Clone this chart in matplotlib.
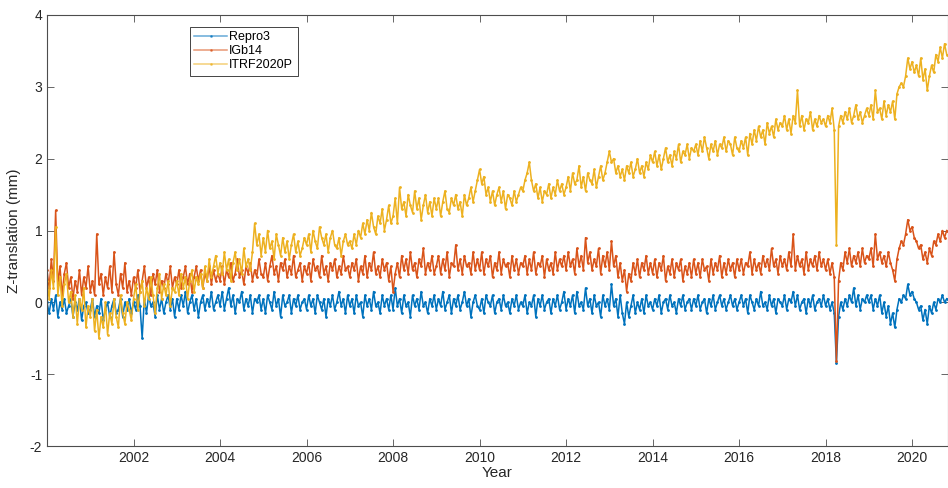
import numpy as np
import matplotlib
matplotlib.use("Agg")
from matplotlib import pyplot as plt

plt.rcParams['font.family'] = ['Liberation Sans', 'DejaVu Sans']
plt.rcParams['axes.unicode_minus'] = False

# sampled every 0.05 year starting at 2000.0 (one row = one year)
start_year = 2000.0
step = 0.05

repro3 = [
    0.0, -0.15, 0.05, -0.1, 0.1, -0.2, 0.0, -0.1, 0.05, -0.15, -0.05, 0.05, -0.2, 0.0, -0.1, 0.05, -0.25, -0.05, 0.0, -0.15,
    -0.1, 0.05, -0.2, -0.05, -0.15, 0.05, -0.25, -0.1, 0.0, -0.2, -0.05, 0.05, -0.15, -0.1, 0.05, -0.2, 0.0, -0.1, 0.05, -0.15,
    0.0, -0.1, 0.1, -0.05, -0.5, 0.05, -0.15, 0.1, -0.05, 0.0, -0.2, 0.1, -0.1, 0.05, -0.15, 0.0, 0.1, -0.1, 0.05, -0.2,
    0.05, -0.1, 0.1, -0.05, 0.15, -0.15, 0.0, 0.1, -0.1, 0.05, -0.2, 0.0, 0.1, -0.1, 0.05, -0.05, 0.15, -0.1, 0.0, 0.1,
    -0.05, 0.15, -0.1, 0.05, 0.2, -0.05, 0.1, -0.15, 0.05, 0.0, 0.15, -0.1, 0.05, -0.05, 0.1, -0.15, 0.05, 0.0, 0.1, -0.1,
    0.05, -0.15, 0.1, 0.0, -0.1, 0.15, -0.05, 0.05, -0.2, 0.1, -0.05, 0.0, 0.1, -0.15, 0.05, -0.05, 0.1, -0.1, 0.0, 0.05,
    -0.1, 0.1, -0.05, 0.05, -0.15, 0.1, 0.0, -0.1, 0.05, -0.2, 0.05, -0.05, 0.1, -0.1, 0.0, 0.15, -0.05, 0.05, -0.15, 0.1,
    -0.05, 0.05, -0.15, 0.1, -0.05, 0.0, -0.2, 0.1, -0.05, 0.05, -0.1, 0.15, -0.05, 0.0, -0.15, 0.1, -0.05, 0.05, -0.1, 0.1,
    -0.1, 0.2, -0.05, 0.05, -0.15, 0.1, -0.05, 0.0, -0.2, 0.1, -0.05, 0.05, -0.1, 0.15, -0.05, 0.0, -0.15, 0.05, -0.05, 0.1,
    -0.1, 0.05, -0.05, 0.15, -0.1, 0.0, 0.1, -0.15, 0.05, -0.05, 0.1, -0.1, 0.0, 0.15, -0.05, 0.05, -0.2, 0.0, 0.1, -0.05,
    -0.1, 0.05, -0.15, 0.1, 0.0, -0.05, 0.1, -0.15, 0.0, 0.05, -0.1, 0.1, -0.05, 0.0, -0.15, 0.05, -0.05, 0.1, -0.1, 0.0,
    -0.05, 0.1, -0.15, 0.0, -0.05, 0.1, -0.2, 0.05, -0.05, 0.1, -0.1, 0.0, 0.05, -0.15, 0.05, -0.05, 0.1, -0.1, 0.0, 0.15,
    -0.1, 0.05, -0.05, 0.1, -0.15, 0.15, -0.05, 0.0, -0.1, 0.2, -0.05, 0.05, -0.15, 0.1, -0.05, 0.0, -0.2, 0.1, -0.05, 0.05,
    -0.1, 0.25, -0.05, 0.05, -0.2, 0.1, -0.15, -0.3, 0.0, -0.2, -0.05, 0.1, -0.15, 0.0, -0.1, 0.05, -0.15, 0.1, -0.05, 0.0,
    -0.1, 0.05, -0.05, 0.1, -0.15, 0.0, 0.05, -0.1, 0.1, -0.05, 0.0, -0.15, 0.05, -0.05, 0.1, -0.1, 0.0, 0.05, -0.1, 0.05,
    -0.05, 0.1, -0.1, 0.0, 0.05, -0.15, 0.05, -0.05, 0.1, -0.1, 0.0, 0.1, -0.05, 0.05, -0.1, 0.0, 0.1, -0.05, 0.05, -0.1,
    0.0, 0.1, -0.05, 0.05, -0.15, 0.1, 0.0, -0.1, 0.05, -0.05, 0.15, -0.05, 0.0, -0.1, 0.1, -0.05, 0.05, -0.15, 0.05, 0.0,
    -0.05, 0.1, -0.1, 0.05, 0.0, 0.15, -0.05, 0.1, -0.1, 0.0, 0.05, -0.15, 0.05, -0.05, 0.1, -0.1, 0.0, 0.05, -0.05, 0.1,
    -0.05, 0.05, -0.1, 0.0, -0.15, -0.85, -0.2, 0.0, -0.1, 0.05, -0.05, 0.1, 0.0, 0.2, -0.05, 0.1, -0.1, 0.05, 0.0, 0.1,
    0.0, 0.1, -0.1, 0.05, -0.05, 0.1, -0.15, 0.0, -0.2, -0.05, -0.3, -0.15, -0.35, -0.1, 0.05, 0.0, 0.1, 0.05, 0.25, 0.1,
    0.15, 0.05, 0.0, -0.1, -0.05, -0.25, -0.1, -0.3, -0.05, -0.15, 0.0, -0.1, 0.05, 0.0, 0.1, 0.0, 0.05,
]

igb14 = [
    0.45, 0.2, 0.6, 0.3, 1.28, 0.25, 0.5, 0.1, 0.4, 0.55, 0.2, 0.35, 0.05, 0.3, 0.15, 0.45, 0.1, 0.35, 0.2, 0.5,
    0.15, 0.3, 0.1, 0.95, 0.25, 0.4, 0.1, 0.35, 0.2, 0.5, 0.15, 0.7, 0.25, 0.1, 0.4, 0.2, 0.55, 0.15, 0.3, 0.1,
    0.35, 0.2, 0.45, 0.15, 0.3, 0.5, 0.2, 0.35, 0.1, 0.4, 0.25, 0.45, 0.15, 0.3, 0.2, 0.4, 0.25, 0.5, 0.2, 0.35,
    0.25, 0.45, 0.2, 0.35, 0.5, 0.25, 0.4, 0.15, 0.35, 0.5, 0.3, 0.45, 0.2, 0.4, 0.3, 0.5, 0.25, 0.45, 0.3, 0.4,
    0.3, 0.5, 0.25, 0.45, 0.35, 0.55, 0.3, 0.4, 0.6, 0.35, 0.45, 0.25, 0.5, 0.4, 0.55, 0.3, 0.45, 0.35, 0.6, 0.4,
    0.35, 0.55, 0.3, 0.5, 0.65, 0.4, 0.5, 0.3, 0.55, 0.45, 0.6, 0.35, 0.5, 0.4, 0.65, 0.35, 0.45, 0.55, 0.3, 0.5,
    0.4, 0.55, 0.3, 0.6, 0.45, 0.5, 0.35, 0.65, 0.4, 0.5, 0.3, 0.55, 0.45, 0.6, 0.35, 0.5, 0.4, 0.65, 0.45, 0.5,
    0.35, 0.55, 0.45, 0.6, 0.3, 0.5, 0.4, 0.65, 0.35, 0.55, 0.45, 0.7, 0.4, 0.5, 0.35, 0.6, 0.45, 0.55, 0.3, 0.5,
    0.15, 0.4, 0.55, 0.35, 0.65, 0.45, 0.6, 0.4, 0.7, 0.45, 0.55, 0.35, 0.6, 0.5, 0.75, 0.4, 0.55, 0.45, 0.65, 0.4,
    0.5, 0.65, 0.4, 0.6, 0.45, 0.7, 0.35, 0.55, 0.5, 0.8, 0.45, 0.6, 0.4, 0.65, 0.5, 0.55, 0.4, 0.7, 0.45, 0.6,
    0.45, 0.7, 0.4, 0.6, 0.5, 0.65, 0.35, 0.55, 0.45, 0.7, 0.4, 0.6, 0.5, 0.55, 0.35, 0.65, 0.45, 0.6, 0.4, 0.55,
    0.5, 0.65, 0.4, 0.6, 0.45, 0.7, 0.4, 0.55, 0.5, 0.65, 0.35, 0.6, 0.45, 0.55, 0.4, 0.7, 0.45, 0.6, 0.5, 0.65,
    0.45, 0.7, 0.5, 0.6, 0.4, 0.75, 0.5, 0.65, 0.45, 0.9, 0.55, 0.7, 0.45, 0.6, 0.5, 0.75, 0.4, 0.65, 0.5, 0.7,
    0.45, 0.85, 0.5, 0.65, 0.35, 0.55, 0.3, 0.45, 0.15, 0.4, 0.3, 0.55, 0.4, 0.6, 0.35, 0.55, 0.45, 0.65, 0.4, 0.55,
    0.4, 0.6, 0.35, 0.55, 0.45, 0.65, 0.3, 0.5, 0.4, 0.6, 0.35, 0.55, 0.45, 0.6, 0.3, 0.5, 0.4, 0.55, 0.35, 0.6,
    0.4, 0.55, 0.35, 0.6, 0.45, 0.5, 0.3, 0.6, 0.4, 0.55, 0.45, 0.65, 0.35, 0.55, 0.4, 0.6, 0.45, 0.55, 0.35, 0.6,
    0.45, 0.6, 0.4, 0.55, 0.5, 0.7, 0.4, 0.6, 0.45, 0.55, 0.4, 0.65, 0.5, 0.6, 0.45, 0.75, 0.5, 0.6, 0.4, 0.65,
    0.5, 0.6, 0.45, 0.7, 0.5, 0.95, 0.45, 0.65, 0.5, 0.6, 0.4, 0.7, 0.45, 0.6, 0.5, 0.65, 0.45, 0.7, 0.5, 0.6,
    0.45, 0.6, 0.4, 0.55, 0.35, -0.82, 0.3, 0.55, 0.45, 0.7, 0.55, 0.75, 0.5, 0.65, 0.55, 0.7, 0.5, 0.75, 0.55, 0.65,
    0.6, 0.75, 0.5, 0.95, 0.6, 0.7, 0.55, 0.65, 0.5, 0.7, 0.55, 0.45, 0.3, 0.6, 0.75, 0.85, 0.8, 0.95, 1.15, 1.0,
    1.05, 0.9, 0.85, 0.75, 0.8, 0.6, 0.7, 0.55, 0.75, 0.65, 0.85, 0.8, 0.95, 0.85, 1.0, 0.9, 1.0,
]

itrf2020p = [
    0.3, 0.05, 0.45, 0.2, 1.05, 0.1, 0.35, -0.05, 0.25, 0.4, 0.0, 0.15, -0.2, 0.1, -0.3, 0.05, -0.1, 0.2, -0.35, -0.05,
    -0.2, 0.05, -0.4, -0.1, -0.5, -0.2, -0.35, 0.0, -0.45, -0.15, -0.3, 0.05, -0.2, -0.35, 0.1, -0.15, -0.3, 0.0, -0.1, -0.25,
    0.05, 0.25, -0.1, 0.15, 0.3, -0.05, 0.2, 0.05, 0.35, 0.1, -0.15, 0.2, 0.4, 0.05, 0.25, 0.1, 0.3, -0.05, 0.2, 0.15,
    0.3, 0.1, 0.4, 0.2, 0.35, 0.05, 0.3, 0.45, 0.15, 0.35, 0.25, 0.4, 0.2, 0.5, 0.3, 0.6, 0.35, 0.5, 0.65, 0.4,
    0.55, 0.4, 0.7, 0.45, 0.6, 0.3, 0.55, 0.7, 0.45, 0.6, 0.4, 0.75, 0.5, 0.6, 0.45, 0.7, 1.1, 0.8, 0.95, 0.65,
    0.9, 0.7, 1.0, 0.75, 0.85, 0.6, 0.95, 0.8, 0.65, 0.9, 0.7, 0.85, 0.6, 0.8, 0.95, 0.7, 0.85, 0.65, 0.75, 0.9,
    0.8, 0.95, 0.7, 1.0, 0.85, 0.75, 1.05, 0.9, 0.8, 0.95, 0.7, 0.9, 1.0, 0.8, 0.75, 0.9, 0.65, 0.85, 0.95, 0.8,
    0.85, 0.75, 0.95, 0.8, 1.0, 0.9, 1.1, 0.95, 1.15, 1.0, 1.25, 1.05, 0.95, 1.2, 1.1, 1.3, 1.0, 1.15, 1.35, 1.1,
    1.2, 1.45, 1.1, 1.6, 1.3, 1.4, 1.2, 1.5, 1.35, 1.25, 1.55, 1.3, 1.45, 1.15, 1.35, 1.5, 1.25, 1.4, 1.2, 1.45,
    1.3, 1.45, 1.2, 1.4, 1.55, 1.3, 1.25, 1.45, 1.35, 1.5, 1.3, 1.4, 1.2, 1.5, 1.35, 1.45, 1.6, 1.4, 1.55, 1.7,
    1.85, 1.65, 1.75, 1.5, 1.6, 1.4, 1.55, 1.35, 1.5, 1.6, 1.4, 1.55, 1.3, 1.5, 1.45, 1.35, 1.55, 1.4, 1.5, 1.6,
    1.55, 1.7, 1.8, 1.95, 1.7, 1.55, 1.65, 1.45, 1.6, 1.4, 1.55, 1.5, 1.65, 1.45, 1.6, 1.5, 1.7, 1.55, 1.65, 1.5,
    1.6, 1.75, 1.55, 1.8, 1.65, 1.7, 1.9, 1.6, 1.75, 1.55, 1.8, 1.7, 1.65, 1.85, 1.6, 1.75, 1.9, 1.7, 1.8, 1.95,
    2.1, 1.95, 2.0, 1.8, 1.9, 1.75, 1.85, 1.7, 1.9, 1.8, 1.95, 1.75, 1.85, 2.0, 1.8, 1.9, 1.75, 1.95, 1.85, 2.05,
    1.95, 2.1, 1.9, 2.05, 1.85, 2.0, 2.15, 1.95, 2.05, 1.9, 2.1, 2.0, 2.2, 1.95, 2.1, 2.05, 2.2, 2.0, 2.15, 2.1,
    2.2, 2.05, 2.25, 2.1, 2.3, 2.15, 2.0, 2.2, 2.1, 2.25, 2.05, 2.2, 2.15, 2.3, 2.1, 2.25, 2.2, 2.05, 2.3, 2.15,
    2.1, 2.25, 2.15, 2.3, 2.05, 2.35, 2.2, 2.4, 2.25, 2.45, 2.3, 2.4, 2.2, 2.5, 2.35, 2.45, 2.3, 2.55, 2.4, 2.5,
    2.45, 2.6, 2.4, 2.55, 2.35, 2.6, 2.5, 2.95, 2.45, 2.6, 2.4, 2.55, 2.5, 2.65, 2.4, 2.55, 2.45, 2.6, 2.5, 2.55,
    2.45, 2.6, 2.5, 2.7, 2.4, 0.8, 2.45, 2.6, 2.5, 2.65, 2.55, 2.7, 2.5, 2.6, 2.75, 2.55, 2.65, 2.5, 2.6, 2.7,
    2.6, 2.75, 2.55, 2.95, 2.65, 2.7, 2.55, 2.8, 2.6, 2.75, 2.65, 2.8, 2.55, 2.9, 3.0, 3.05, 3.0, 3.15, 3.4, 3.25,
    3.35, 3.2, 3.3, 3.15, 3.4, 3.1, 3.25, 2.95, 3.15, 3.3, 3.2, 3.45, 3.35, 3.55, 3.4, 3.6, 3.45,
]

labels = ["Repro3", "IGb14", "ITRF2020P"]
colors = ["#0072BD", "#D95319", "#EDB120"]

fig = plt.figure(figsize=(9.48, 4.88), dpi=100)
ax = fig.add_axes([47 / 948, 42 / 488, 1 - 47 / 948, 431 / 488])

for series, lab, col in zip([repro3, igb14, itrf2020p], labels, colors):
    years = start_year + step * np.arange(len(series))
    ax.plot(years, series, color=col, lw=1.1, marker='.', markersize=2, label=lab)

ax.set_xlim(2000.0, 2020.83)
ax.set_ylim(-2, 4)
ax.set_xticks(np.arange(2002, 2021, 2))
ax.set_yticks(np.arange(-2, 5, 1))

axcol = "#262626"
for sp in ax.spines.values():
    sp.set_color("#4d4d4d")
    sp.set_linewidth(0.8)
ax.tick_params(direction='in', top=True, right=True, length=5, width=0.6,
               colors="#4d4d4d", labelcolor=axcol, labelsize=10)

ax.set_xlabel("Year", fontsize=11, color=axcol, labelpad=1)
ax.set_ylabel("Z-translation (mm)", fontsize=11, color=axcol, labelpad=6)

leg = ax.legend(loc='upper left', bbox_to_anchor=(143 / 901, 1 - 12 / 431), borderaxespad=0,
                fancybox=False, edgecolor='#262626', framealpha=1, fontsize=9,
                handlelength=2.6, handletextpad=0.2, labelspacing=0.15, borderpad=0.35)
leg.get_frame().set_linewidth(0.6)
for ln in leg.get_lines():
    ln.set_alpha(0.6)

fig.savefig("out.png", dpi=100)
